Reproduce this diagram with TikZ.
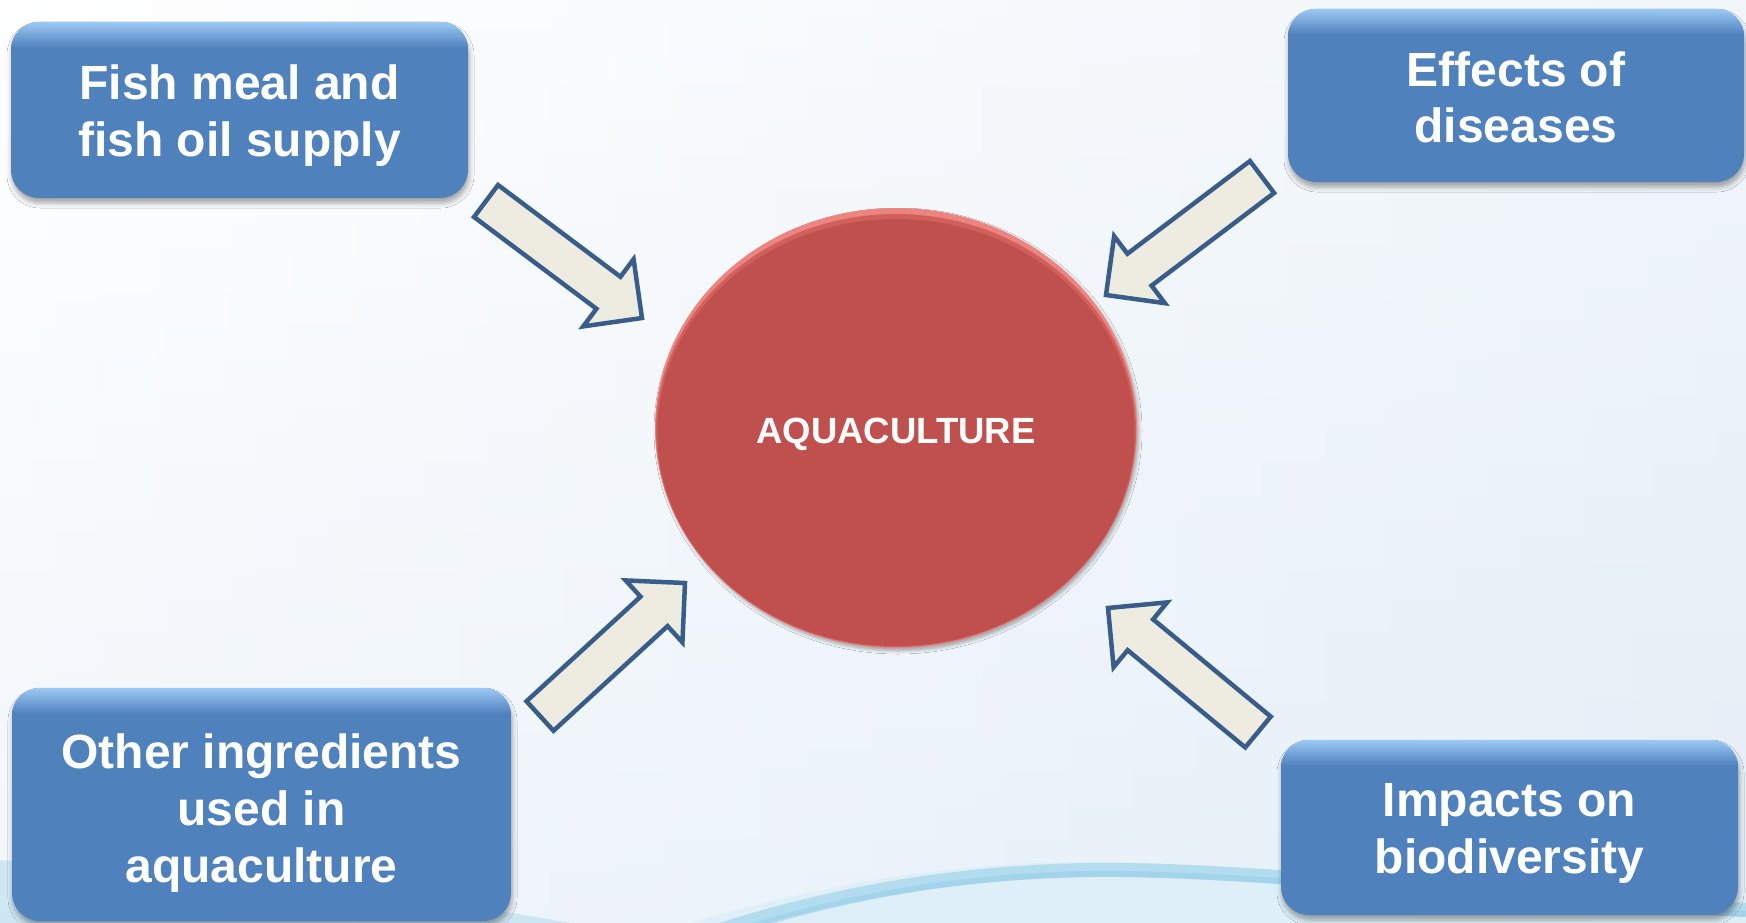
\documentclass[tikz,border=0pt]{standalone}
\usepackage{fontspec}
\setmainfont{Liberation Sans}
\usetikzlibrary{calc,shadows.blur,shapes.geometric}
\definecolor{boxblue}{HTML}{4F81BD}
\definecolor{boxtop}{HTML}{9DC9F5}
\definecolor{arrfill}{HTML}{EEECE1}
\definecolor{arrline}{HTML}{385D8A}
\definecolor{redc}{HTML}{C0504D}
\definecolor{redmid}{HTML}{D0605C}
\definecolor{redrim}{HTML}{EE8480}
\definecolor{bgblue}{HTML}{E4EEF7}
\definecolor{swooshc}{HTML}{92CDE9}
\definecolor{swooshl}{HTML}{DCEFF8}
\tikzset{
  boxshape/.style={rectangle, rounded corners=28pt, fill=boxblue, inner sep=0pt,
    blur shadow={shadow xshift=1pt, shadow yshift=-5pt, shadow blur radius=5pt, shadow opacity=35}},
  boxtext/.style={font=\fontsize{48}{57}\selectfont\bfseries, text=white, align=center, inner sep=0pt, anchor=base},
  blockarrow/.style={fill=arrfill, draw=arrline, line width=4.5pt, line join=miter, miter limit=10},
}
\newcommand\blockarr[2]{%
  \coordinate (hb) at ($(#2)!42pt!(#1)$);
  \draw[blockarrow] ($(#1)!20pt!90:(#2)$) -- ($(hb)!20pt!90:(#2)$) -- ($(hb)!42pt!90:(#2)$) -- (#2)
    -- ($(hb)!42pt!-90:(#2)$) -- ($(hb)!20pt!-90:(#2)$) -- ($(#1)!20pt!-90:(#2)$) -- cycle;}
\newcommand\boxtophl[1]{%
  \begin{scope}
    \clip[rounded corners=28pt] (#1.south west) rectangle (#1.north east);
    \shade[top color=boxtop, bottom color=boxblue] (#1.north west) rectangle ($(#1.north east)+(0,26)$);
  \end{scope}}
\begin{document}
\begin{tikzpicture}[x=1pt,y=-1pt]
  % background
  \useasboundingbox (0,0) rectangle (1746,923);
  \shade[top color=white, bottom color=bgblue] (0,0) rectangle (1746,923);
  \shade[left color=white, right color=bgblue, opacity=0.5] (0,0) rectangle (1746,923);
  % swooshes
  \fill[swooshl, opacity=0.8] (690,923) .. controls (820,885) and (950,862) .. (1090,862)
     .. controls (1250,862) and (1500,892) .. (1746,902) -- (1746,923) -- cycle;
  \draw[swooshc, line width=14pt, opacity=0.55] (720,930) .. controls (840,892) and (960,872) .. (1090,870)
     .. controls (1250,868) and (1500,898) .. (1746,910);
  \draw[swooshc, line width=6pt, opacity=0.5] (740,930) .. controls (850,896) and (960,876) .. (1090,874)
     .. controls (1250,872) and (1500,902) .. (1746,914);
  \fill[swooshc, opacity=0.35] (0,860) .. controls (200,875) and (420,895) .. (570,923) -- (0,923) -- cycle;
  % boxes
  \node[boxshape, minimum width=457pt, minimum height=176pt] (fish) at (239.5,110) {};
  \boxtophl{fish}
  \node[boxshape, minimum width=456pt, minimum height=173pt] (dis) at (1516,95.5) {};
  \boxtophl{dis}
  \node[boxshape, minimum width=499pt, minimum height=233pt] (oth) at (261.5,804.5) {};
  \boxtophl{oth}
  \node[boxshape, minimum width=457pt, minimum height=175pt] (imp) at (1509.5,827.5) {};
  \boxtophl{imp}
  % central ellipse
  \node[ellipse, minimum width=482pt, minimum height=440pt, inner sep=0pt, fill=redrim,
        blur shadow={shadow xshift=2pt, shadow yshift=-3pt, shadow blur radius=3pt, shadow opacity=30}] (aqua) at (896,428) {};
  \fill[redmid] ($(aqua.center)+(0,2.5)$) ellipse [x radius=240pt, y radius=216.5pt];
  \fill[redc] ($(aqua.center)+(0,4.5)$) ellipse [x radius=238.5pt, y radius=213.5pt];
  % texts
  \node[boxtext] (fisht) at (239.5,157) {Fish meal and\\fish oil supply};
  \node[boxtext] (dist) at (1516,143) {Effects of\\diseases};
  \node[boxtext] (otht) at (261.5,882) {Other ingredients\\used in\\aquaculture};
  \node[boxtext] (impt) at (1509.5,873) {Impacts on\\biodiversity};
  \node[font=\fontsize{36.5}{44}\selectfont\bfseries, text=white, anchor=base, inner sep=0pt] (aqt) at (896,443) {AQUACULTURE};
  % arrows
  \coordinate (a1s) at (486,201);  \coordinate (a1e) at (642,318);
  \coordinate (a2s) at (1262,177); \coordinate (a2e) at (1106,295);
  \coordinate (a3s) at (540,716);  \coordinate (a3e) at (685,583);
  \coordinate (a4s) at (1258,732); \coordinate (a4e) at (1108,608);
  \blockarr{a1s}{a1e}
  \blockarr{a2s}{a2e}
  \blockarr{a3s}{a3e}
  \blockarr{a4s}{a4e}
\end{tikzpicture}
\end{document}
